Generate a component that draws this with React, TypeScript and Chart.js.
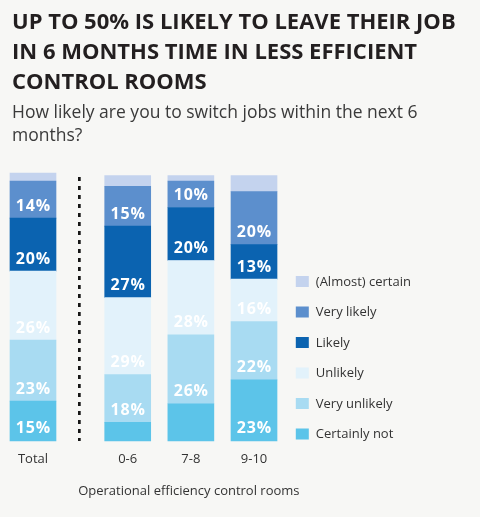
import React, { useEffect, useRef } from 'react';
import { Chart, registerables } from 'chart.js';

Chart.register(...registerables);

// ---------- data ----------
const categories = ['Total', '0-6', '7-8', '9-10'];
const seriesNames = ['(Almost) certain', 'Very likely', 'Likely', 'Unlikely', 'Very unlikely', 'Certainly not'];
const almostCertain = [3, 4, 2, 6];
const veryLikely = [14, 15, 10, 20];
const likely = [20, 27, 20, 13];
const unlikely = [26, 29, 28, 16];
const veryUnlikely = [23, 18, 26, 22];
const certainlyNot = [15, 7, 14, 23];
// which values are printed inside their segment
const almostCertainShown = [false, false, false, false];
const veryLikelyShown = [true, true, true, true];
const likelyShown = [true, true, true, true];
const unlikelyShown = [true, true, true, true];
const veryUnlikelyShown = [true, true, true, true];
const certainlyNotShown = [true, false, false, true];

const seriesValues = [almostCertain, veryLikely, likely, unlikely, veryUnlikely, certainlyNot];
const seriesShown = [almostCertainShown, veryLikelyShown, likelyShown, unlikelyShown, veryUnlikelyShown, certainlyNotShown];
const seriesColors = ['#c4d3ee', '#5c8fcd', '#0b63b0', '#e2f2fb', '#a8dbf2', '#5cc4e9'];

const titleLines = ['UP TO 50% IS LIKELY TO LEAVE THEIR JOB', 'IN 6 MONTHS TIME IN LESS EFFICIENT', 'CONTROL ROOMS'];
const subtitleLines = ['How likely are you to switch jobs within the next 6', 'months?'];
const xAxisTitle = 'Operational efficiency control rooms';

// ---------- style ----------
const FONT = "'Open Sans'";
const W = 480;
const H = 517;

// slots: Total, two empty slots (divider), then each group with one empty slot between
const slotLabels: string[] = [];
const slotIndex: number[] = [];
categories.forEach((c, i) => {
  if (i > 0) {
    const gap = i === 1 ? 2 : 1;
    for (let g = 0; g < gap; g++) slotLabels.push('');
  }
  slotIndex.push(slotLabels.length);
  slotLabels.push(c);
});
const toSlots = (vals: any[]) =>
  slotLabels.map((_, s) => {
    const k = slotIndex.indexOf(s);
    return k >= 0 ? vals[k] : null;
  });

export default function App() {
  const ref = useRef<HTMLCanvasElement | null>(null);

  useEffect(() => {
    if (!ref.current) return;

    // datasets from bottom to top
    const order = [5, 4, 3, 2, 1, 0];
    const datasets = order.map((si) => ({
      label: seriesNames[si],
      data: toSlots(seriesValues[si]),
      shown: toSlots(seriesShown[si]),
      backgroundColor: seriesColors[si],
      borderWidth: 0,
      barThickness: 46,
      clip: false as any,
    }));

    const segmentLabels = {
      id: 'segmentLabels',
      afterDatasetsDraw(chart: any) {
        const { ctx } = chart;
        ctx.save();
        ctx.font = `bold 16px ${FONT}`;
        try {
          (ctx as any).letterSpacing = '0.8px';
        } catch (e) {}
        ctx.fillStyle = '#ffffff';
        ctx.textAlign = 'center';
        ctx.textBaseline = 'middle';
        chart.data.datasets.forEach((ds: any, di: number) => {
          const meta = chart.getDatasetMeta(di);
          meta.data.forEach((el: any, i: number) => {
            const v = ds.data[i];
            if (v == null || !ds.shown[i]) return;
            ctx.fillText(`${v}%`, el.x + 0.4, el.base - 12);
          });
        });
        ctx.restore();
      },
    };

    const divider = {
      id: 'divider',
      afterDatasetsDraw(chart: any) {
        const { ctx, chartArea } = chart;
        const xs = chart.scales.x;
        const x = xs.getPixelForValue((slotIndex[0] + slotIndex[1]) / 2) - 1;
        ctx.save();
        ctx.strokeStyle = '#151515';
        ctx.lineWidth = 2.7;
        ctx.setLineDash([4, 5]);
        ctx.beginPath();
        ctx.moveTo(x, chartArea.top + 4);
        ctx.lineTo(x, chartArea.bottom);
        ctx.stroke();
        ctx.restore();
      },
    };

    const groupTitle = {
      id: 'groupTitle',
      afterDraw(chart: any) {
        const { ctx, chartArea } = chart;
        const xs = chart.scales.x;
        const x0 = xs.getPixelForValue(slotIndex[1]);
        const x1 = xs.getPixelForValue(slotIndex[slotIndex.length - 1]);
        ctx.save();
        ctx.font = `normal 13px ${FONT}`;
        ctx.fillStyle = '#333333';
        ctx.textAlign = 'center';
        ctx.textBaseline = 'middle';
        ctx.fillText(xAxisTitle, (x0 + x1) / 2 - 2, chartArea.bottom + 50);
        ctx.restore();
      },
    };

    // legend at the right, top entry = top of the stack
    const sideLegend = {
      id: 'sideLegend',
      afterDraw(chart: any) {
        const { ctx, chartArea } = chart;
        const x0 = chartArea.right + 26;
        const y0 = chartArea.top + 103;
        const step = 30.5;
        ctx.save();
        ctx.font = `normal 13px ${FONT}`;
        ctx.textAlign = 'left';
        ctx.textBaseline = 'middle';
        const items = chart.data.datasets.slice().reverse();
        items.forEach((ds: any, i: number) => {
          const y = y0 + i * step;
          ctx.fillStyle = ds.backgroundColor;
          ctx.fillRect(x0, y, 13, 11);
          ctx.fillStyle = '#333333';
          ctx.fillText(ds.label, x0 + 20, y + 6);
        });
        ctx.restore();
      },
    };

    const chart = new Chart(ref.current, {
      type: 'bar',
      data: { labels: slotLabels, datasets: datasets as any },
      plugins: [segmentLabels, divider, groupTitle, sideLegend],
      options: {
        animation: false,
        responsive: false,
        events: [],
        layout: { padding: { left: 12, right: 0, top: 0, bottom: 39.5 } },
        scales: {
          x: {
            stacked: true,
            offset: true,
            grid: { display: false, drawTicks: false },
            border: { display: false },
            ticks: {
              autoSkip: false,
              maxRotation: 0,
              padding: 10.5,
              color: '#333333',
              font: { family: FONT, size: 13 },
            },
            afterFit: (s: any) => {
              // reserve room left of the plot and for the legend on its right
              s.paddingLeft = 17.2;
              s.paddingRight = 210.2;
            },
          },
          y: {
            stacked: true,
            min: 0,
            max: 101,
            display: false,
          },
        } as any,
        plugins: {
          title: {
            display: true,
            text: titleLines,
            align: 'start',
            color: '#231f20',
            font: { family: FONT, size: 22, weight: 'bold', lineHeight: 30 / 22 },
            padding: { top: 8, bottom: 4 },
          },
          subtitle: {
            display: true,
            text: subtitleLines,
            align: 'start',
            color: '#3a3a3a',
            font: { family: FONT, size: 17.5, weight: 'normal', lineHeight: 23 / 17.5 },
            padding: { top: 0, bottom: 25 },
          },
          legend: { display: false },
          tooltip: { enabled: false },
        },
      },
    });

    return () => chart.destroy();
  }, []);

  return (
    <div style={{ position: 'fixed', left: 0, top: 0, width: W, height: H, background: '#f7f7f5' }}>
      <canvas ref={ref} width={W} height={H} style={{ display: 'block', width: W, height: H }} />
    </div>
  );
}
